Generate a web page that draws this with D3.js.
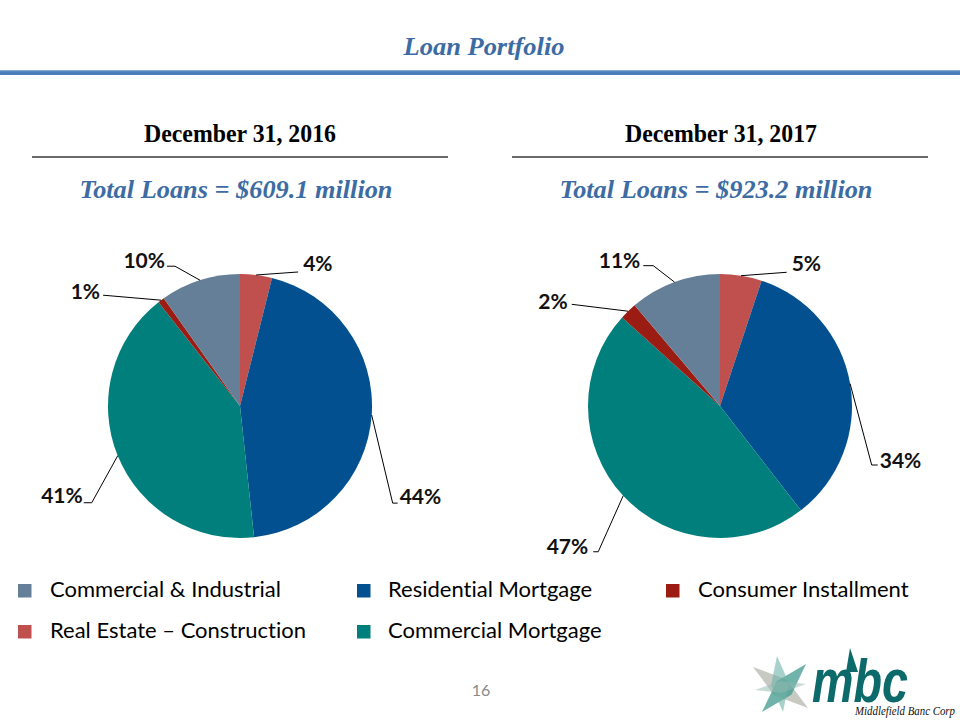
<!DOCTYPE html>
<html><head><meta charset="utf-8">
<script src="https://cdn.jsdelivr.net/npm/d3@7"></script>
<style>body{margin:0;background:#fff}svg{display:block}text{font-variant-ligatures:none}</style>
</head><body><svg id="c" width="960" height="720"></svg>
<script>
// ---------- data ----------
const title = "Loan Portfolio";
const categories = ["Real Estate – Construction", "Residential Mortgage", "Commercial Mortgage", "Consumer Installment", "Commercial & Industrial"];
const periods = ["December 31, 2016", "December 31, 2017"];
const totals = ["Total Loans = $609.1 million", "Total Loans = $923.2 million"];
const shares2016 = [3.9, 44.4, 41.1, 0.8, 9.8];
const shares2017 = [5.1, 34.4, 47.2, 2.1, 11.2];
const legendRow1 = ["Commercial & Industrial", "Residential Mortgage", "Consumer Installment"];
const legendRow2 = ["Real Estate – Construction", "Commercial Mortgage"];
const pageNumber = "16";

// ---------- styles / layout ----------
const colors = {
  "Real Estate – Construction": "#c0504d",
  "Residential Mortgage": "#02508f",
  "Commercial Mortgage": "#017f7d",
  "Consumer Installment": "#9b1c13",
  "Commercial & Industrial": "#667f99"
};
const blue = "#3c6ca3";
// leader layout per slice: [dx, dy, h, tdx, tdy]
const labelLayout = [
  [[42, -3, 0, 5, -10], [21, 88, 5, 2, -8], [-26, 47, -8, -1, -8], [-58, -5, 0, -3, -5], [-25, -14, -8, -2, -7]],
  [[45.6, -3.4, 0, 5, -10], [21.6, 81.3, 6, 2, -5.5], [-25, 56, -5, -5, -6.7], [-56.4, -6.9, 0, -4, -4.3], [-21.2, -16.4, -10, -3, -6.7]]
];

const svg = d3.select("#c");
const W = 960;

// title
svg.append("text").attr("x", 484).attr("y", 55).attr("text-anchor", "middle")
  .attr("font-family", "Liberation Serif").attr("font-weight", "bold").attr("font-style", "italic")
  .attr("font-size", 26).attr("fill", blue)
  .attr("textLength", 161).attr("lengthAdjust", "spacingAndGlyphs").text(title);
svg.append("rect").attr("x", 0).attr("y", 70).attr("width", W).attr("height", 5).attr("fill", "#4a7dba");
svg.append("rect").attr("x", 0).attr("y", 70).attr("width", W).attr("height", 1.2).attr("fill", "#86a8d4");

const pieCenters = [240, 720];
const headCenters = [240, 721];
const totalCenters = [236, 716];
const R = 132, CY = 406;
const allShares = [shares2016, shares2017];

const pie = d3.pie().sort(null).value(d => d);
const arc = d3.arc().innerRadius(0).outerRadius(R);
const pct = v => d3.format(".0f")(v) + "%";

periods.forEach((p, i) => {
  const cx = pieCenters[i];
  svg.append("text").attr("x", headCenters[i]).attr("y", 142).attr("text-anchor", "middle")
    .attr("font-family", "Liberation Serif").attr("font-weight", "bold").attr("font-size", 26)
    .attr("fill", "#000").attr("textLength", 192).attr("lengthAdjust", "spacingAndGlyphs").text(p);
  svg.append("line").attr("x1", cx - 208).attr("x2", cx + 208).attr("y1", 157).attr("y2", 157)
    .attr("stroke", "#3a3a3a").attr("stroke-width", 1.5);
  svg.append("text").attr("x", totalCenters[i]).attr("y", 198).attr("text-anchor", "middle")
    .attr("font-family", "Liberation Serif").attr("font-weight", "bold").attr("font-style", "italic")
    .attr("font-size", 26).attr("fill", blue)
    .attr("textLength", 313).attr("lengthAdjust", "spacingAndGlyphs").text(totals[i]);

  const g = svg.append("g").attr("transform", `translate(${cx},${CY})`);
  const arcs = pie(allShares[i]);
  g.selectAll("path.slice").data(arcs).enter().append("path").attr("class", "slice")
    .attr("d", arc).attr("fill", (d, j) => colors[categories[j]]);

  arcs.forEach((d, j) => {
    const a = (d.startAngle + d.endAngle) / 2;
    const ex = R * Math.sin(a), ey = -R * Math.cos(a);
    const [dx, dy, h, tdx, tdy] = labelLayout[i][j];
    const pts = [[ex, ey], [ex + dx, ey + dy], [ex + dx + h, ey + dy]];
    g.append("path").attr("d", d3.line()(pts)).attr("fill", "none")
      .attr("stroke", "#000").attr("stroke-width", 1);
    const right = (dx + h) > 0;
    g.append("text").attr("x", pts[2][0] + tdx).attr("y", pts[2][1] + tdy)
      .attr("dominant-baseline", "central").attr("text-anchor", right ? "start" : "end")
      .attr("font-family", "Lato").attr("font-weight", "bold").attr("font-size", 21)
      .attr("fill", "#111").text(pct(d.data));
  });
});

// legend
const legendCols = [[18, 50], [357, 388], [666, 698]];
const legendRows = [597, 638];
[legendRow1, legendRow2].forEach((row, r) => {
  row.forEach((name, c) => {
    const [sx, tx] = legendCols[c];
    const base = legendRows[r];
    svg.append("rect").attr("x", sx).attr("y", base - 13).attr("width", 13.5).attr("height", 13.5)
      .attr("fill", colors[name]);
    svg.append("text").attr("x", tx).attr("y", base).attr("font-family", "Lato")
      .attr("font-size", 22).attr("fill", "#000").text(name);
  });
});

// page number
svg.append("text").attr("x", 481).attr("y", 696).attr("text-anchor", "middle")
  .attr("font-family", "Lato").attr("font-size", 16).attr("fill", "#8a8a8a").text(pageNumber);

// logo (decorative)
const logo = svg.append("g");
const kite = (p1, p2, w) => {
  const mx = (p1[0] + p2[0]) / 2, my = (p1[1] + p2[1]) / 2;
  const vx = p2[0] - p1[0], vy = p2[1] - p1[1], L = Math.hypot(vx, vy);
  const nx = -vy / L * w, ny = vx / L * w;
  return d3.line()([p1, [mx + nx, my + ny], p2, [mx - nx, my - ny]]) + "Z";
};
logo.append("path").attr("d", kite([753, 667], [808, 708], 10)).attr("fill", "#b9bdb4").attr("opacity", 0.8);
logo.append("path").attr("d", kite([806, 664], [762, 712], 10)).attr("fill", "#3f9a8f").attr("opacity", 0.75);
logo.append("path").attr("d", kite([777, 656], [783, 712], 9)).attr("fill", "#6fb3a8").attr("opacity", 0.6);
logo.append("path").attr("d", kite([755, 690], [806, 684], 6)).attr("fill", "#8fb9b0").attr("opacity", 0.5);
logo.append("path").attr("d", d3.line()([[846, 672], [850, 648], [858, 672]]) + "Z").attr("fill", "#0d6a6a");
logo.append("text").attr("x", 812).attr("y", 702).attr("font-family", "Liberation Sans")
  .attr("font-weight", "bold").attr("font-style", "italic").attr("font-size", 62)
  .attr("fill", "#0d6a6a").attr("textLength", 96).attr("lengthAdjust", "spacingAndGlyphs").text("mbc");
logo.append("text").attr("x", 855).attr("y", 715).attr("font-family", "Liberation Serif")
  .attr("font-style", "italic").attr("font-size", 13).attr("fill", "#111")
  .attr("textLength", 100).attr("lengthAdjust", "spacingAndGlyphs").text("Middlefield Banc Corp");
</script></body></html>
